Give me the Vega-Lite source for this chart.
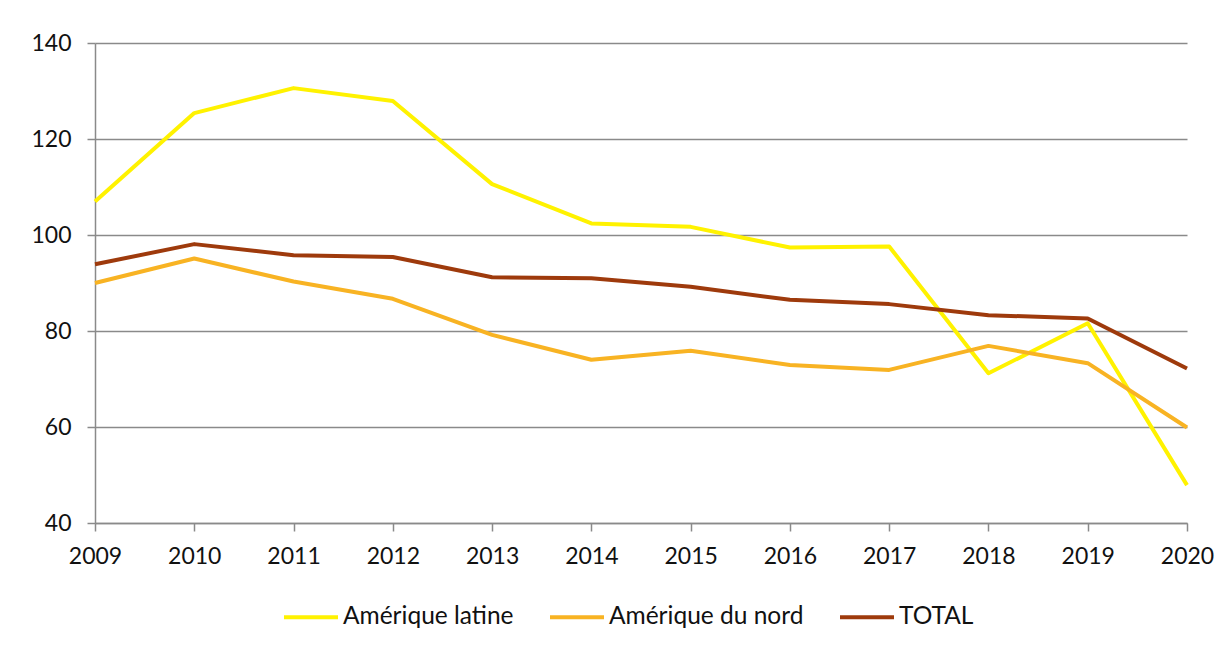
{
  "$schema": "https://vega.github.io/schema/vega-lite/v6.json",
  "width": 1092,
  "height": 480,
  "autosize": {"type": "none"},
  "padding": {"left": 95, "top": 43, "right": 42, "bottom": 122},
  "background": "white",
  "config": {
    "view": {"stroke": null},
    "font": "Lato",
    "axis": {"labelFont": "Lato", "labelColor": "#111111", "labelFontSize": 23}
  },
  "data": {
    "values": [
      {"year": "2009", "serie": "Amérique latine", "value": 107},
      {"year": "2010", "serie": "Amérique latine", "value": 125.4},
      {"year": "2011", "serie": "Amérique latine", "value": 130.6},
      {"year": "2012", "serie": "Amérique latine", "value": 127.9},
      {"year": "2013", "serie": "Amérique latine", "value": 110.6},
      {"year": "2014", "serie": "Amérique latine", "value": 102.4},
      {"year": "2015", "serie": "Amérique latine", "value": 101.7},
      {"year": "2016", "serie": "Amérique latine", "value": 97.4},
      {"year": "2017", "serie": "Amérique latine", "value": 97.6},
      {"year": "2018", "serie": "Amérique latine", "value": 71.2},
      {"year": "2019", "serie": "Amérique latine", "value": 81.6},
      {"year": "2020", "serie": "Amérique latine", "value": 47.9},
      {"year": "2009", "serie": "Amérique du nord", "value": 90},
      {"year": "2010", "serie": "Amérique du nord", "value": 95.1},
      {"year": "2011", "serie": "Amérique du nord", "value": 90.3},
      {"year": "2012", "serie": "Amérique du nord", "value": 86.7},
      {"year": "2013", "serie": "Amérique du nord", "value": 79.2},
      {"year": "2014", "serie": "Amérique du nord", "value": 74},
      {"year": "2015", "serie": "Amérique du nord", "value": 75.9},
      {"year": "2016", "serie": "Amérique du nord", "value": 72.9},
      {"year": "2017", "serie": "Amérique du nord", "value": 71.9},
      {"year": "2018", "serie": "Amérique du nord", "value": 76.9},
      {"year": "2019", "serie": "Amérique du nord", "value": 73.3},
      {"year": "2020", "serie": "Amérique du nord", "value": 59.9},
      {"year": "2009", "serie": "TOTAL", "value": 93.9},
      {"year": "2010", "serie": "TOTAL", "value": 98.1},
      {"year": "2011", "serie": "TOTAL", "value": 95.8},
      {"year": "2012", "serie": "TOTAL", "value": 95.4},
      {"year": "2013", "serie": "TOTAL", "value": 91.2},
      {"year": "2014", "serie": "TOTAL", "value": 91.0},
      {"year": "2015", "serie": "TOTAL", "value": 89.2},
      {"year": "2016", "serie": "TOTAL", "value": 86.5},
      {"year": "2017", "serie": "TOTAL", "value": 85.6},
      {"year": "2018", "serie": "TOTAL", "value": 83.3},
      {"year": "2019", "serie": "TOTAL", "value": 82.6},
      {"year": "2020", "serie": "TOTAL", "value": 72.2}
    ]
  },
  "mark": {"type": "line", "strokeWidth": 4, "strokeJoin": "round"},
  "encoding": {
    "x": {
      "field": "year",
      "type": "ordinal",
      "scale": {"type": "point", "padding": 0},
      "axis": {
        "title": null,
        "labelAngle": 0,
        "domainColor": "#8a8a8a",
        "domainWidth": 1.5,
        "tickColor": "#8a8a8a",
        "tickWidth": 1.5,
        "tickSize": 8,
        "labelPadding": 14,
        "grid": false
      }
    },
    "y": {
      "field": "value",
      "type": "quantitative",
      "scale": {"domain": [40, 140], "nice": false, "zero": false},
      "axis": {
        "title": null,
        "values": [40, 60, 80, 100, 120, 140],
        "domainColor": "#8a8a8a",
        "domainWidth": 1.5,
        "tickColor": "#8a8a8a",
        "tickWidth": 1.5,
        "tickSize": 8,
        "labelPadding": 16,
        "grid": true,
        "gridColor": "#8a8a8a",
        "gridWidth": 1.5
      }
    },
    "color": {
      "field": "serie",
      "type": "nominal",
      "sort": ["Amérique latine", "Amérique du nord", "TOTAL"],
      "scale": {
        "domain": ["Amérique latine", "Amérique du nord", "TOTAL"],
        "range": ["#FFF200", "#F8B323", "#9E3A0C"]
      },
      "legend": {
        "title": null,
        "orient": "none",
        "direction": "horizontal",
        "legendX": 187,
        "legendY": 545,
        "symbolType": "stroke",
        "symbolSize": 2916,
        "symbolStrokeWidth": 4,
        "labelFontSize": 24.5,
        "labelFont": "Lato",
        "labelColor": "#111111",
        "labelOffset": 3,
        "labelLimit": 0,
        "columnPadding": 28,
        "padding": 0
      }
    }
  }
}
